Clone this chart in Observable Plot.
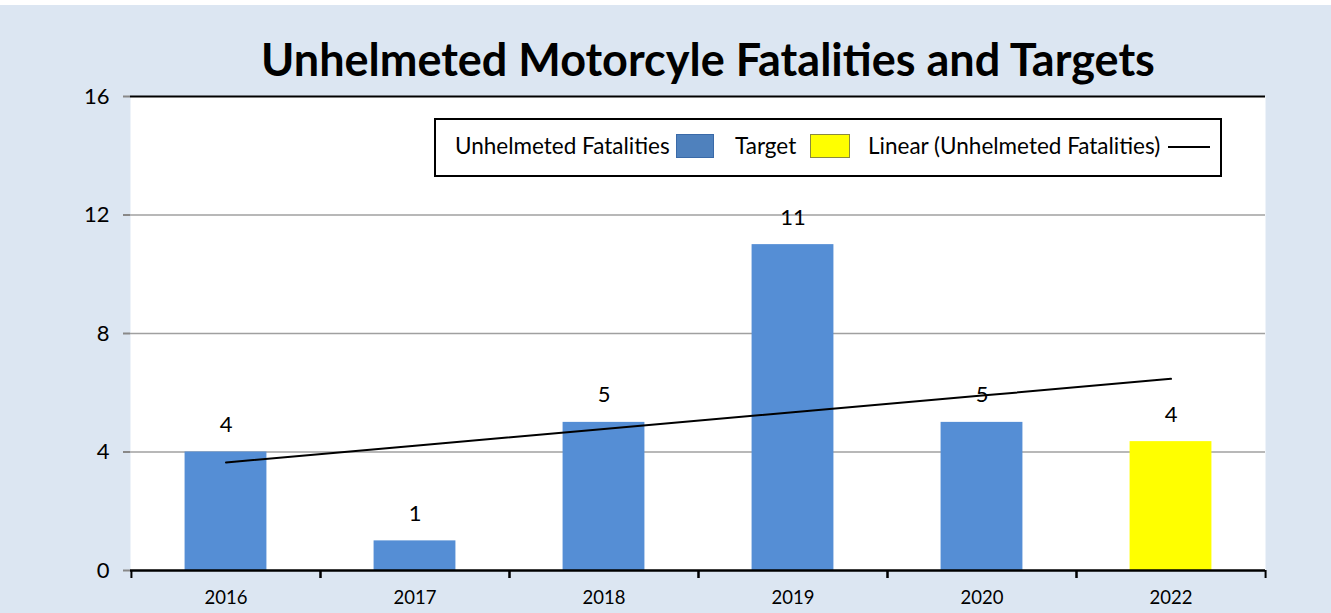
<!DOCTYPE html>
<html>
<head>
<meta charset="utf-8">
<script src="https://cdn.jsdelivr.net/npm/d3@7"></script>
<script src="https://cdn.jsdelivr.net/npm/@observablehq/plot@0.6"></script>
<style>
  html, body { margin: 0; padding: 0; background: #ffffff; }
  #wrap { position: relative; width: 1331px; height: 613px; overflow: hidden; }
  #bg { position: absolute; left: 0; top: 5px; width: 1331px; height: 608px; background: #dce6f2; }
  #chart { position: absolute; left: 0; top: 0; }
  #title { position: absolute; left: 708px; top: 37px; transform: translateX(-50%); white-space: nowrap;
           font-family: Lato, sans-serif; font-weight: bold; font-size: 45px; color: #000; line-height: 1; }
  #legend { position: absolute; left: 434px; top: 118px; width: 784px; height: 55px; border: 2px solid #000; background: #fff;
            font-family: Lato, sans-serif; font-size: 22.5px; color: #000; }
  #legend .t { position: absolute; top: 13px; white-space: nowrap; line-height: 26px; }
  #legend .sw { position: absolute; top: 14px; height: 24px; box-sizing: border-box; }
  #legend .ln { position: absolute; top: 26px; height: 0; border-top: 2px solid #000; }
</style>
</head>
<body>
<div id="wrap">
  <div id="bg"></div>
  <div id="chart"></div>
  <div id="title"></div>
  <div id="legend"></div>
</div>
<script>
const years = ["2016", "2017", "2018", "2019", "2020", "2022"];
const values = [4, 1, 5, 11, 5, 4.35];
const kinds = ["Unhelmeted Fatalities", "Unhelmeted Fatalities", "Unhelmeted Fatalities", "Unhelmeted Fatalities", "Unhelmeted Fatalities", "Target"];
const yTicks = [0, 4, 8, 12, 16];
const titleText = "Unhelmeted Motorcyle Fatalities and Targets";
const legendLabels = ["Unhelmeted Fatalities", "Target", "Linear (Unhelmeted Fatalities)"];

const colors = {"Unhelmeted Fatalities": "#558ed5", "Target": "#ffff00"};

const data = years.map((y, i) => ({year: y, value: values[i], kind: kinds[i], idx: i + 1}));

// linear trend over all points (index 1..n)
const mx = d3.mean(data, d => d.idx), my = d3.mean(data, d => d.value);
const slope = d3.sum(data, d => (d.idx - mx) * (d.value - my)) / d3.sum(data, d => (d.idx - mx) ** 2);
const trend = data.map(d => ({year: d.year, value: my + slope * (d.idx - mx)}));

const W = 1331, H = 613;
const mL = 130, mR = 66, mT = 96, mB = 43;
const band = (W - mL - mR) / years.length;
const barW = 82;
const inset = (band - barW) / 2;

const fontFam = "Lato, sans-serif";

const plot = Plot.plot({
  width: W, height: H,
  marginLeft: mL, marginRight: mR, marginTop: mT, marginBottom: mB,
  style: {background: "transparent", fontFamily: fontFam, overflow: "visible"},
  x: {type: "band", domain: years, padding: 0},
  y: {domain: [0, 16]},
  marks: [
    Plot.frame({fill: "#ffffff", stroke: "none"}),
    Plot.ruleY([4, 8, 12], {stroke: "#a0a0a0", strokeWidth: 1.5}),
    Plot.barY(data, {x: "year", y: "value", fill: d => colors[d.kind], insetLeft: inset, insetRight: inset}),
    Plot.line(trend, {x: "year", y: "value", stroke: "#000", strokeWidth: 2}),
    Plot.text(data, {x: "year", y: "value", text: d => d3.format(".0f")(d.value), dy: -27, fontSize: 22, fill: "#000"}),
    Plot.ruleY([16], {stroke: "#000", strokeWidth: 2}),
    Plot.axisY({anchor: "right", ticks: [], line: true, stroke: "#000", strokeWidth: 2, label: null}),
    Plot.axisY({ticks: yTicks, tickSize: 7, tickPadding: 14, line: true, stroke: "#888", strokeWidth: 2,
                fontSize: 22, fill: "#000", label: null}),
    Plot.ruleY([0], {stroke: "#000", strokeWidth: 2.5}),
    Plot.axisX({tickSize: 0, tickPadding: 20, fontSize: 18.5, fill: "#000", label: null}),
    Plot.axisX({tickSize: 8, dx: -band / 2, text: null, stroke: "#000", strokeWidth: 2, label: null}),
    Plot.axisX({tickSize: 8, dx: band / 2, text: null, stroke: "#000", strokeWidth: 2, label: null})
  ]
});
document.getElementById("chart").appendChild(plot);

document.getElementById("title").textContent = titleText;

const lg = document.getElementById("legend");
const items = [
  {html: `<span class="t" style="left:19px">${legendLabels[0]}</span>`},
  {html: `<span class="sw" style="left:240px;width:38px;background:#4f81bd;border:1px solid #3a6aa8"></span>`},
  {html: `<span class="t" style="left:299px">${legendLabels[1]}</span>`},
  {html: `<span class="sw" style="left:374px;width:40px;background:#ffff00;border:1px solid #8a8a40"></span>`},
  {html: `<span class="t" style="left:432px">${legendLabels[2]}</span>`},
  {html: `<span class="ln" style="left:732px;width:42px"></span>`}
];
lg.innerHTML = items.map(d => d.html).join("");
</script>
</body>
</html>
